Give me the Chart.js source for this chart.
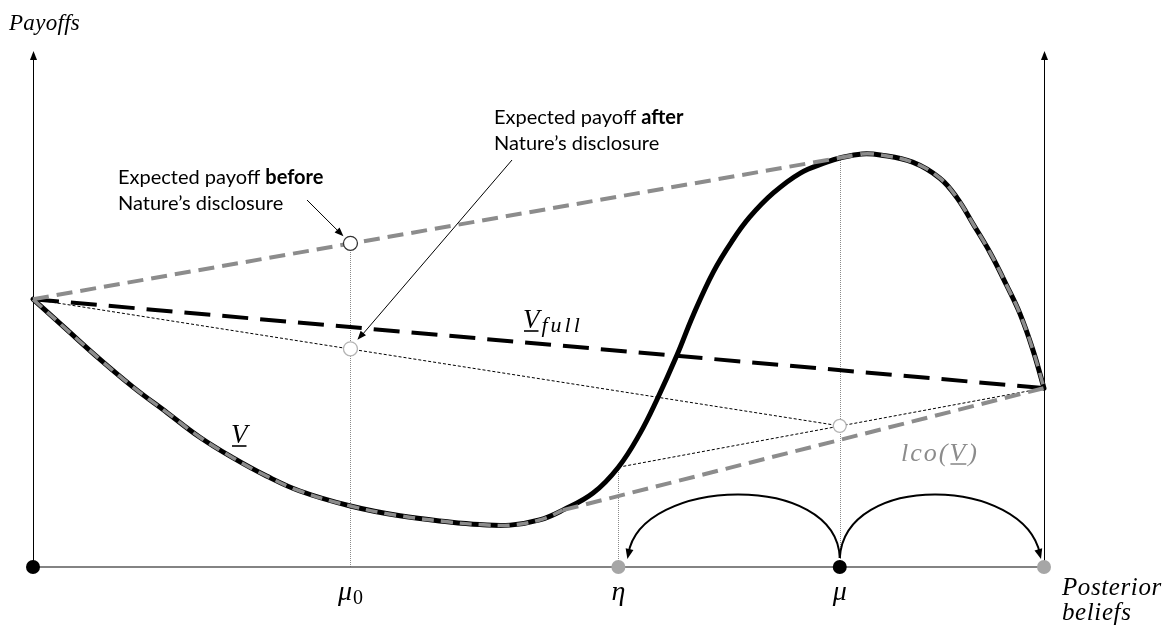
<!DOCTYPE html>
<html>
<head>
<meta charset="utf-8">
<script src="https://cdn.jsdelivr.net/npm/chart.js@4.4.1/dist/chart.umd.min.js"></script>
<style>
  html, body { margin: 0; padding: 0; background: #fff; }
  canvas { display: block; }
</style>
</head>
<body>
<canvas id="chart" width="1162" height="625"></canvas>
<script>
// Posterior beliefs (0 = left axis, 1 = right axis) and the payoff V at each belief
const beliefs = [0, 0.034, 0.066, 0.099, 0.133, 0.165, 0.198, 0.231, 0.264, 0.314,
                 0.363, 0.412, 0.442, 0.472, 0.501, 0.524, 0.554, 0.579, 0.600, 0.617,
                 0.637, 0.653, 0.673, 0.692, 0.709, 0.732, 0.759, 0.785, 0.798, 0.820,
                 0.838, 0.870, 0.897, 0.914, 0.930, 0.947, 0.963, 0.976, 0.989, 1];
const payoffV = [0.518, 0.458, 0.402, 0.348, 0.298, 0.251, 0.211, 0.176, 0.147, 0.118,
                 0.099, 0.087, 0.082, 0.081, 0.091, 0.110, 0.143, 0.193, 0.257, 0.323,
                 0.410, 0.487, 0.571, 0.632, 0.677, 0.723, 0.762, 0.783, 0.791, 0.799,
                 0.797, 0.783, 0.752, 0.714, 0.663, 0.607, 0.545, 0.491, 0.420, 0.346];

// Marked beliefs on the horizontal axis
const mu0 = 0.314;
const eta = 0.579;
const mu = 0.798;
const tickBeliefs = [mu0, eta, mu];
const tickSymbols = ['\u03BC', '\u03B7', '\u03BC'];
const tickSubscripts = ['0', '', ''];

// Where the concave hull rejoins V, and where the convex hull leaves V
const upperTouch = 0.820;
const lowerTouch = 0.524;

// Full-disclosure payoff line (value at belief 0 and belief 1)
const fullBeliefs = [0, 1];
const fullValues = [0.518, 0.346];

// Concave hull chord and convex hull chord
const upperChordX = [0, 0.820];
const upperChordY = [0.518, 0.799];
const lowerChordX = [0.524, 1];
const lowerChordY = [0.110, 0.346];

// Splitting lines: prior-to-mu and eta-to-1
const splitAX = [0, 0.798];
const splitAY = [0.518, 0.273];
const splitBX = [0.579, 1];
const splitBY = [0.193, 0.346];

// Expected payoffs shown as open circles (before, after, at mu)
const circleX = [0.314, 0.314, 0.798];
const circleY = [0.626, 0.422, 0.273];

// Dots on the belief axis
const axisDotX = [0, 0.579, 0.798, 1];
const axisDotColors = ['#000000', '#a6a6a6', '#000000', '#a6a6a6'];

// Vertical guide lines: belief and top value
const guideX = [0.314, 0.579, 0.798];
const guideTop = [0.626, 0.193, 0.791];

const GRAY = '#8c8c8c';
const pts = (xs, ys) => xs.map((v, i) => ({ x: v, y: ys[i] }));
const vPoints = pts(beliefs, payoffV);

function strokeLine(ctx, x1, y1, x2, y2) {
  ctx.beginPath(); ctx.moveTo(x1, y1); ctx.lineTo(x2, y2); ctx.stroke();
}
function arrowHead(ctx, fx, fy, tx, ty, len, half) {
  const a = Math.atan2(ty - fy, tx - fx);
  const c = Math.cos(a), s = Math.sin(a);
  ctx.beginPath();
  ctx.moveTo(tx, ty);
  ctx.lineTo(tx - len * c + half * s, ty - len * s - half * c);
  ctx.lineTo(tx - len * c - half * s, ty - len * s + half * c);
  ctx.closePath();
  ctx.fill();
}
function runs(ctx, x, y, parts, size, family) {
  let cx = x;
  for (const [text, weight] of parts) {
    ctx.font = `${weight} ${size}px ${family}`;
    ctx.fillText(text, cx, y);
    cx += ctx.measureText(text).width;
  }
}
// Underlined italic capital V with an optional subscript
function underV(ctx, x, y, size, sub, color) {
  ctx.fillStyle = color;
  ctx.strokeStyle = color;
  ctx.font = `italic ${size}px "Liberation Serif"`;
  ctx.textAlign = 'left';
  ctx.fillText('V', x, y);
  const w = ctx.measureText('V').width;
  ctx.lineWidth = 1.6;
  strokeLine(ctx, x + 1, y + 3, x + w - 1, y + 3);
  if (sub) {
    ctx.font = `italic ${Math.round(size * 0.8)}px "Liberation Serif"`;
    ctx.letterSpacing = '3px';
    ctx.fillText(sub, x + w + 2, y + 4);
    ctx.letterSpacing = '0px';
  }
  return w;
}

const overlay = {
  id: 'overlay',
  beforeDatasetsDraw(chart) {
    const { ctx, scales: { x, y } } = chart;
    const x0 = x.getPixelForValue(0), x1 = x.getPixelForValue(1);
    const yb = y.getPixelForValue(0), yt = y.getPixelForValue(1);
    ctx.save();
    // vertical guides
    ctx.strokeStyle = '#8a8a8a';
    ctx.lineWidth = 1;
    ctx.setLineDash([1, 1]);
    guideX.forEach((g, i) => {
      const px = Math.round(x.getPixelForValue(g)) + 0.5;
      strokeLine(ctx, px, yb, px, y.getPixelForValue(guideTop[i]));
    });
    ctx.setLineDash([]);
    // belief axis
    ctx.strokeStyle = '#5a5a5a';
    ctx.lineWidth = 1.5;
    strokeLine(ctx, x0, yb, x1, yb);
    // payoff axes with arrowheads
    ctx.strokeStyle = '#000';
    ctx.fillStyle = '#000';
    ctx.lineWidth = 1;
    for (const px of [x0 + 0.5, x1 + 0.5]) {
      strokeLine(ctx, px, yb, px, yt + 8);
      arrowHead(ctx, px, yt + 10, px, yt + 1, 9, 3.5);
    }
    // arcs from mu to eta and to 1
    const pm = x.getPixelForValue(mu), pe = x.getPixelForValue(eta);
    ctx.lineWidth = 2;
    ctx.beginPath();
    ctx.moveTo(pm, yb - 9);
    ctx.bezierCurveTo(pm - 3, yb - 96, pe + 22, yb - 90, pe + 10, yb - 13);
    ctx.stroke();
    arrowHead(ctx, pe + 13, yb - 26, pe + 9, yb - 8, 10, 4);
    ctx.beginPath();
    ctx.moveTo(pm, yb - 9);
    ctx.bezierCurveTo(pm + 5, yb - 96, x1 - 20, yb - 90, x1 - 4, yb - 13);
    ctx.stroke();
    arrowHead(ctx, x1 - 8, yb - 26, x1 - 3, yb - 8, 10, 4);
    ctx.restore();
  },
  afterDatasetsDraw(chart) {
    const { ctx, scales: { x, y } } = chart;
    const yb = y.getPixelForValue(0);
    const x1 = x.getPixelForValue(1);
    ctx.save();
    ctx.fillStyle = '#000';
    ctx.textBaseline = 'alphabetic';

    // axis titles
    ctx.textAlign = 'left';
    ctx.font = 'italic 23px "Liberation Serif"';
    ctx.letterSpacing = '0.3px';
    ctx.fillText('Payoffs', 9, 30);
    ctx.font = 'italic 25px "Liberation Serif"';
    ctx.letterSpacing = '0.6px';
    ctx.fillText('Posterior', x1 + 18, yb + 28);
    ctx.fillText('beliefs', x1 + 18, yb + 53);
    ctx.letterSpacing = '0px';

    // belief labels
    tickBeliefs.forEach((b, i) => {
      const px = x.getPixelForValue(b);
      ctx.font = 'italic 28px "Liberation Serif"';
      const w1 = ctx.measureText(tickSymbols[i]).width;
      ctx.font = '20px "Liberation Serif"';
      const w2 = tickSubscripts[i] ? ctx.measureText(tickSubscripts[i]).width + 1 : 0;
      const sx = px - (w1 + w2) / 2;
      ctx.font = 'italic 28px "Liberation Serif"';
      ctx.fillText(tickSymbols[i], sx, yb + 33);
      if (tickSubscripts[i]) {
        ctx.font = '20px "Liberation Serif"';
        ctx.fillText(tickSubscripts[i], sx + w1 + 1, yb + 37);
      }
    });

    // curve names
    underV(ctx, 231, 443, 27, '', '#000');
    underV(ctx, 523, 328, 27, 'full', '#000');
    ctx.fillStyle = GRAY;
    ctx.font = 'italic 26px "Liberation Serif"';
    ctx.letterSpacing = '2px';
    ctx.fillText('lco(', 901, 461);
    const wl = ctx.measureText('lco(').width;
    const wv = underV(ctx, 901 + wl, 461, 26, '', GRAY);
    ctx.font = 'italic 26px "Liberation Serif"';
    ctx.letterSpacing = '2px';
    ctx.fillText(')', 901 + wl + wv + 1, 461);
    ctx.letterSpacing = '0px';

    // callouts
    ctx.fillStyle = '#000';
    ctx.strokeStyle = '#000';
    const fam = 'Lato';
    runs(ctx, 118, 184, [['Expected payoff ', 'normal'], ['before', 'bold']], 20, fam);
    runs(ctx, 118, 210, [['Nature\u2019s disclosure', 'normal']], 20, fam);
    runs(ctx, 494, 124, [['Expected payoff ', 'normal'], ['after', 'bold']], 20, fam);
    runs(ctx, 494, 150, [['Nature\u2019s disclosure', 'normal']], 20, fam);

    ctx.lineWidth = 1;
    const bx = x.getPixelForValue(circleX[0]), by = y.getPixelForValue(circleY[0]);
    strokeLine(ctx, 307, 200, bx - 9, by - 9);
    arrowHead(ctx, 307, 200, bx - 7, by - 7, 9, 3.5);
    const ax = x.getPixelForValue(circleX[1]), ay = y.getPixelForValue(circleY[1]);
    strokeLine(ctx, 512, 160, ax + 10, ay - 12);
    arrowHead(ctx, 512, 160, ax + 7, ay - 9, 9, 3.5);
    ctx.restore();
  }
};

const lineBase = { showLine: true, pointRadius: 0, clip: false, fill: false, tension: 0.4 };

new Chart(document.getElementById('chart'), {
  type: 'scatter',
  data: {
    datasets: [
      { // dots on the belief axis
        data: axisDotX.map(v => ({ x: v, y: 0 })),
        pointRadius: 7, pointBackgroundColor: axisDotColors, pointBorderWidth: 0,
        order: 1, clip: false
      },
      { // expected payoff circles
        data: pts(circleX, circleY),
        pointRadius: [7, 7, 6.5], pointBackgroundColor: '#ffffff',
        pointBorderColor: ['#333333', '#b4b4b4', '#b4b4b4'], pointBorderWidth: 1.3,
        order: 2, clip: false
      },
      { ...lineBase, // convex hull along V
        data: vPoints,
        borderColor: GRAY, borderWidth: 3.5, borderDash: [12, 7],
        segment: { borderColor: c => c.p1.parsed.x <= lowerTouch + 1e-9 ? GRAY : 'rgba(0,0,0,0)' },
        order: 3
      },
      { ...lineBase, // convex hull chord
        data: pts(lowerChordX, lowerChordY), borderColor: GRAY, borderWidth: 4,
        borderDash: [16, 8], tension: 0, order: 3
      },
      { ...lineBase, // concave hull along V
        data: vPoints,
        borderColor: GRAY, borderWidth: 3.5, borderDash: [12, 7],
        segment: { borderColor: c => c.p0.parsed.x >= upperTouch - 1e-9 ? GRAY : 'rgba(0,0,0,0)' },
        order: 4
      },
      { ...lineBase, // concave hull chord
        data: pts(upperChordX, upperChordY), borderColor: GRAY, borderWidth: 4,
        borderDash: [16, 8], tension: 0, order: 4
      },
      { ...lineBase, // V
        data: vPoints,
        borderColor: '#000', borderWidth: 5, borderCapStyle: 'round', order: 5
      },
      { ...lineBase, // full disclosure
        data: pts(fullBeliefs, fullValues), borderColor: '#000', borderWidth: 4,
        borderDash: [26, 12], tension: 0, order: 6
      },
      { ...lineBase, // splitting lines
        data: pts(splitAX, splitAY), borderColor: '#000', borderWidth: 1,
        borderDash: [3, 2], tension: 0, order: 7
      },
      { ...lineBase,
        data: pts(splitBX, splitBY), borderColor: '#000', borderWidth: 1,
        borderDash: [3, 2], tension: 0, order: 7
      }
    ]
  },
  options: {
    responsive: false,
    animation: false,
    events: [],
    layout: { padding: { left: 33, right: 118, top: 50, bottom: 58 } },
    scales: {
      x: { type: 'linear', min: 0, max: 1, display: false },
      y: { type: 'linear', min: 0, max: 1, display: false }
    },
    plugins: { legend: { display: false }, tooltip: { enabled: false } }
  },
  plugins: [overlay]
});
</script>
</body>
</html>
